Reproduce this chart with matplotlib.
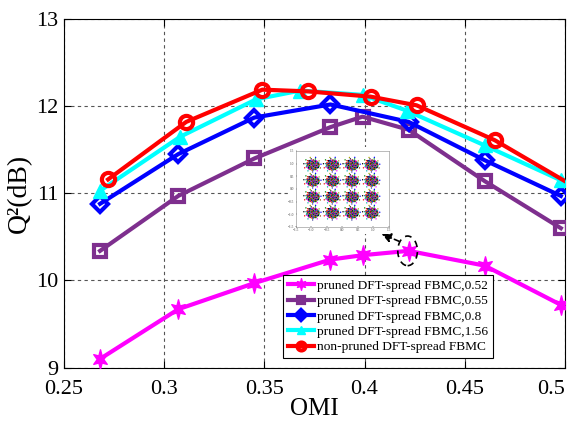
import numpy as np
import matplotlib
matplotlib.use("Agg")
import matplotlib.pyplot as plt
from matplotlib.patches import Ellipse, Rectangle
from matplotlib.path import Path

plt.rcParams['font.family'] = ['Liberation Serif', 'DejaVu Serif']

# OMI sweep and Q^2 results for each FBMC variant
omi_052 = [0.268, 0.307, 0.345, 0.383, 0.399, 0.422, 0.460, 0.498]
q2_052 = [9.10, 9.67, 9.97, 10.24, 10.29, 10.34, 10.17, 9.72]

omi_055 = [0.268, 0.307, 0.345, 0.383, 0.399, 0.422, 0.460, 0.498]
q2_055 = [10.34, 10.97, 11.40, 11.76, 11.88, 11.73, 11.14, 10.60]

omi_08 = [0.268, 0.307, 0.345, 0.383, 0.422, 0.460, 0.498]
q2_08 = [10.88, 11.45, 11.87, 12.02, 11.82, 11.38, 10.97]

omi_156 = [0.268, 0.308, 0.346, 0.368, 0.399, 0.421, 0.460, 0.498]
q2_156 = [11.03, 11.65, 12.08, 12.18, 12.13, 11.95, 11.55, 11.15]

omi_np = [0.272, 0.311, 0.349, 0.372, 0.403, 0.426, 0.465, 0.506]
q2_np = [11.16, 11.82, 12.19, 12.17, 12.11, 12.01, 11.61, 11.06]

labels = ['pruned DFT-spread FBMC,0.52', 'pruned DFT-spread FBMC,0.55',
          'pruned DFT-spread FBMC,0.8', 'pruned DFT-spread FBMC,1.56',
          'non-pruned DFT-spread FBMC']

xticks = [0.25, 0.3, 0.35, 0.4, 0.45, 0.5]
xticklabels = ['0.25', '0.3', '0.35', '0.4', '0.45', '0.5']
yticks = [9, 10, 11, 12, 13]

# 16-QAM constellation levels for the inset
qam_levels = [-0.949, -0.316, 0.316, 0.949]

# six-pointed star marker
ang = np.pi / 2 + np.arange(12) * np.pi / 6
rad = np.where(np.arange(12) % 2 == 0, 1.0, 0.42)
star_verts = np.column_stack([rad * np.cos(ang) * 0.8, rad * np.sin(ang)])
star_verts = np.vstack([star_verts, star_verts[0]])
hexstar = Path(star_verts, closed=True)

fig = plt.figure(figsize=(5.70, 4.24), dpi=100)
ax = fig.add_axes([0.1123, 0.133, 0.8787, 0.822])

lw = 3.0
ax.plot(omi_052, q2_052, color='#FF00FF', lw=lw, marker=hexstar, ms=14,
        mfc='#FF00FF', mec='#FF00FF', label=labels[0], zorder=3)
ax.plot(omi_055, q2_055, color='#7E2F8E', lw=lw, marker='s', ms=8,
        mfc='none', mew=3, label=labels[1], zorder=3)
ax.plot(omi_08, q2_08, color='#0000FF', lw=lw, marker='D', ms=8,
        mfc='none', mew=3, label=labels[2], zorder=3)
ax.plot(omi_156, q2_156, color='#00FFFF', lw=lw, marker='^', ms=10,
        mfc='#00FFFF', mec='#00FFFF', label=labels[3], zorder=3)
ax.plot(omi_np, q2_np, color='#FF0000', lw=lw, marker='o', ms=9.5,
        mfc='none', mew=3, label=labels[4], zorder=3)

ax.set_xlim(0.25, 0.5)
ax.set_ylim(9, 13)
ax.set_xticks(xticks)
ax.set_xticklabels(xticklabels)
ax.set_yticks(yticks)
ax.tick_params(direction='in', top=True, right=True, labelsize=16,
               length=5, width=0.8)
ax.tick_params(axis='x', pad=9)
ax.tick_params(axis='y', pad=4)
ax.grid(True, color='#555555', linestyle=(0, (3, 3)), linewidth=0.8)
ax.set_axisbelow(True)
for s in ax.spines.values():
    s.set_linewidth(0.8)

# the last x tick label ends at the right spine
ax.get_xticklabels()[-1].set_horizontalalignment('right')

ax.set_xlabel('OMI', fontsize=18, labelpad=-1)
ax.set_ylabel('Q²(dB)', fontsize=20, labelpad=3)

leg = ax.legend(loc='lower left', bbox_to_anchor=(0.437, 0.028),
                fontsize=9.6, frameon=True, fancybox=False, edgecolor='black',
                framealpha=1, borderpad=0.35, labelspacing=0.22,
                handlelength=2.0, handletextpad=0.2, borderaxespad=0,
                markerscale=0.6)
leg.get_frame().set_linewidth(0.8)
leg.set_zorder(5)

# dashed ellipse marking the point whose constellation is shown
ax.add_patch(Ellipse((0.4215, 10.34), 0.0098, 0.34, fill=False,
                     edgecolor='black', lw=1.2, linestyle=(0, (4, 3)), zorder=6))
ax.annotate('', xy=(0.4085, 10.535), xytext=(0.4172, 10.45),
            arrowprops=dict(arrowstyle='-|>', color='black', lw=1.2,
                            linestyle=(0, (3, 2)), mutation_scale=14,
                            shrinkA=0, shrinkB=0), zorder=6)

# constellation inset
fig.patches.append(Rectangle((0.505, 0.448), 0.18, 0.205, transform=fig.transFigure,
                             facecolor='white', edgecolor='none', zorder=1))
ins = fig.add_axes([0.519, 0.465, 0.163, 0.179])
ins.set_zorder(2)
palette = ['#ff0000', '#008800', '#0000ff', '#ff00ff', '#00aaaa', '#000000',
           '#aaaa00', '#884400', '#333399']
n = 160
k = np.arange(n)
golden = np.pi * (3 - np.sqrt(5))
r = 0.21 * np.sqrt((k + 0.5) / n) * (1 + 0.5 * (k % 5 == 0))
th = k * golden
dx, dy = r * np.cos(th), r * np.sin(th)
cols = [palette[i % len(palette)] for i in k]
for xi in qam_levels:
    for yi in qam_levels:
        ins.scatter(xi + dx, yi + dy, s=1.0, c=cols, linewidths=0)
ins.set_xlim(-1.5, 1.5)
ins.set_ylim(-1.5, 1.5)
ins.set_xticks([-1.5, -1, -0.5, 0, 0.5, 1, 1.5])
ins.set_yticks([-1.5, -1, -0.5, 0, 0.5, 1, 1.5])
ins.tick_params(labelsize=2.5, length=1, width=0.3, pad=1, direction='in',
                labelcolor='#444444')
for s in ins.spines.values():
    s.set_linewidth(0.4)
    s.set_color('#888888')

fig.savefig('out.png', dpi=100)
